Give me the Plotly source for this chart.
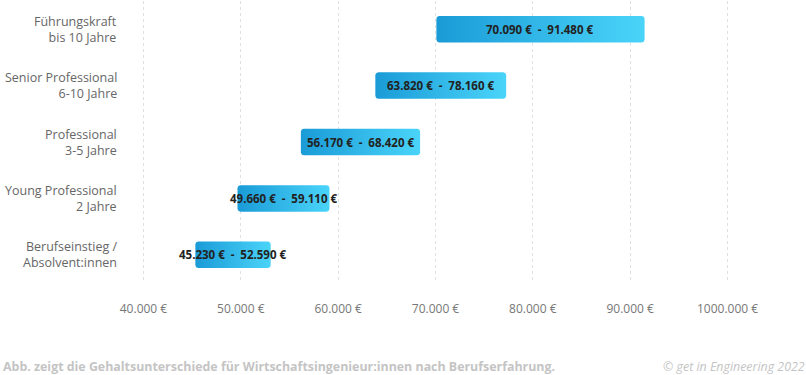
import math
import plotly.graph_objects as go

categories = [
    "Berufseinstieg /<br>Absolvent:innen",
    "Young Professional<br>2 Jahre",
    "Professional<br>3-5 Jahre",
    "Senior Professional<br>6-10 Jahre",
    "Führungskraft<br>bis 10 Jahre",
]
# salary ranges as printed in the labels
low_values = [45230, 49660, 56170, 63820, 70090]
high_values = [52590, 59110, 68420, 78160, 91480]
# bar extents as drawn in the picture
bar_start = [45330, 49660, 56170, 63820, 70090]
bar_end = [53070, 59110, 68420, 77260, 91480]
tick_values = [40000, 50000, 60000, 70000, 80000, 90000, 100000]
tick_labels = ["40.000 €", "50.000 €", "60.000 €", "70.000 €", "80.000 €", "90.000 €", "1000.000 €"]

W, H = 806, 375
ML, MR, MT, MB = 124, 59, 1, 92
XR = [38000, 102000]
YR = [-0.5, 4.5]
pw, ph = W - ML - MR, H - MT - MB
rx = 3 * (XR[1] - XR[0]) / pw
ry = 3 * (YR[1] - YR[0]) / ph


def fmt(v):
    return f"{v:,}".replace(",", ".") + " €"


def rounded(x0, x1, y0, y1):
    xs, ys = [], []
    corners = [(x1 - rx, y0 + ry, -90, 0), (x1 - rx, y1 - ry, 0, 90),
               (x0 + rx, y1 - ry, 90, 180), (x0 + rx, y0 + ry, 180, 270)]
    for cx, cy, a0, a1 in corners:
        for k in range(6):
            a = math.radians(a0 + (a1 - a0) * k / 5)
            xs.append(cx + rx * math.cos(a))
            ys.append(cy + ry * math.sin(a))
    xs.append(xs[0]); ys.append(ys[0])
    return xs, ys


fig = go.Figure()
half = 0.235
for i in range(len(categories)):
    b0, b1 = bar_start[i], bar_end[i]
    xs, ys = rounded(b0, b1, i - half, i + half)
    fig.add_trace(go.Scatter(
        x=xs, y=ys,
        mode="lines",
        line=dict(width=0),
        fill="toself",
        fillgradient=dict(type="horizontal",
                          colorscale=[[0, "#1a9bd7"], [1, "#4ad4f9"]]),
        hoverinfo="skip",
        showlegend=False,
    ))
    fig.add_annotation(
        x=(b0 + b1) / 2, y=i,
        text=f"<b>{fmt(low_values[i])}  -  {fmt(high_values[i])}</b>",
        showarrow=False,
        font=dict(family="Open Sans", size=11.5, color="#222222"),
    )

for i, cat in enumerate(categories):
    fig.add_annotation(
        xref="paper", x=-5 / pw, y=i, xanchor="right", yanchor="middle",
        text=cat, align="right", showarrow=False,
        font=dict(family="Open Sans", size=12.5, color="#666666"),
    )

fy = -(366 - (MT + ph)) / ph
fig.add_annotation(
    xref="paper", yref="paper", x=-(ML - 1) / pw, y=fy, xanchor="left", yanchor="middle",
    text="<b>Abb. zeigt die Gehaltsunterschiede für Wirtschaftsingenieur:innen nach Berufserfahrung.</b>",
    showarrow=False, font=dict(family="Open Sans", size=12.4, color="#c4c4c4"),
)
fig.add_annotation(
    xref="paper", yref="paper", x=(W - ML + 1) / pw, y=fy, xanchor="right", yanchor="middle",
    text="<i>© get in Engineering 2022</i>",
    showarrow=False, font=dict(family="Open Sans", size=12.4, color="#c4c4c4"),
)

fig.update_layout(
    width=W, height=H,
    margin=dict(l=ML, r=MR, t=MT, b=MB),
    plot_bgcolor="white", paper_bgcolor="white",
    xaxis=dict(
        range=XR, automargin=False,
        tickvals=tick_values, ticktext=tick_labels,
        showgrid=True, gridcolor="#e0e0e0", griddash="dot", gridwidth=1,
        zeroline=False, showline=False,
        ticks="outside", ticklen=15, tickcolor="rgba(0,0,0,0)",
        tickfont=dict(family="Open Sans", size=12, color="#777777"),
        fixedrange=True,
    ),
    yaxis=dict(
        range=YR, automargin=False,
        showticklabels=False,
        showgrid=False, zeroline=False, showline=False,
        fixedrange=True,
    ),
)

fig.write_html("out.html", config={"displayModeBar": False},
               post_script="document.body.style.margin='0';")
